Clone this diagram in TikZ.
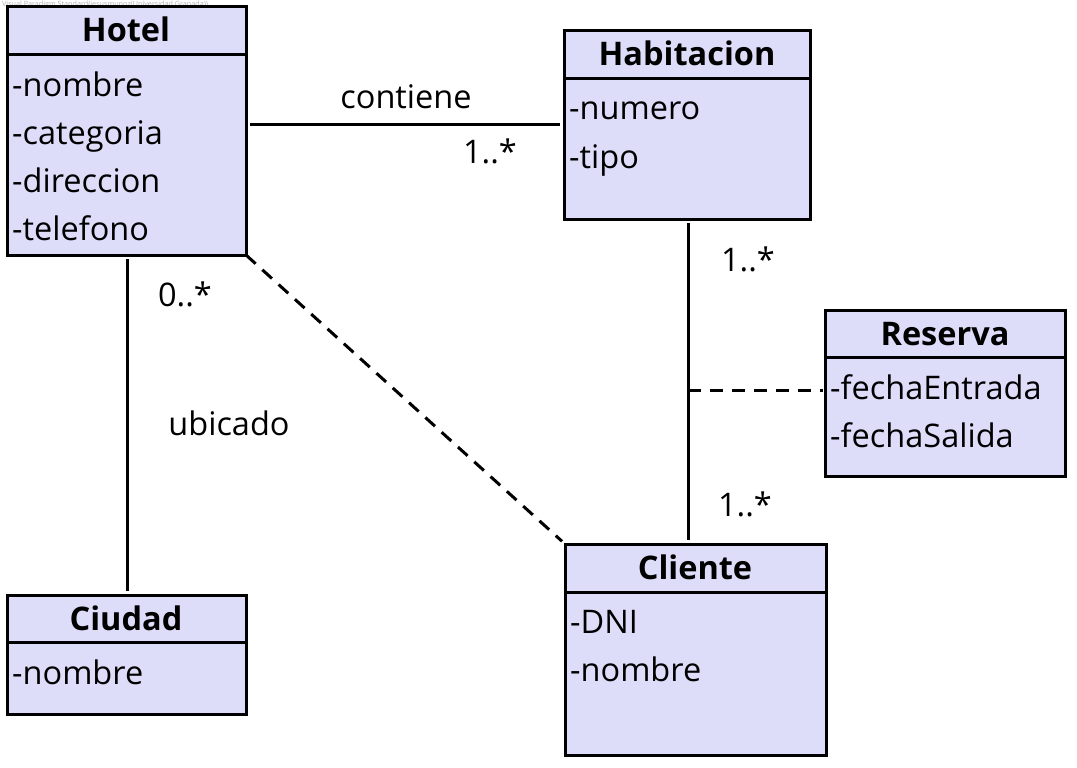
\documentclass[tikz,border=0pt]{standalone}
\usepackage{fontspec}
\setmainfont{Open Sans}
\begin{document}
\begin{tikzpicture}[x=1pt,y=-1pt,
  classbox/.style={draw=black,line width=3pt,fill=boxfill,anchor=north west,inner sep=0pt,outer sep=0pt},
  ctitle/.style={font=\fontsize{32.5}{38}\selectfont\bfseries,anchor=base,inner sep=0pt},
  attr/.style={font=\fontsize{32.5}{38}\selectfont,anchor=base west,inner sep=0pt},
  lbl/.style={font=\fontsize{32.5}{38}\selectfont,anchor=base,inner sep=0pt},
  conn/.style={line width=3pt,shorten <=4pt,shorten >=4pt},
  dconn/.style={line width=3pt,dash pattern=on 13pt off 9pt},
  hline/.style={line width=3pt}
]
\definecolor{boxfill}{RGB}{221,221,250}
\useasboundingbox (0,0) rectangle (1077,768);
\fill[white] (0,0) rectangle (1077,768);
\node[font=\fontsize{7.2}{8}\selectfont,text=gray!60,anchor=north west,inner sep=0pt] (wm) at (2,0.5) {Visual Paradigm Standard(jesusmunoz(Universidad Granada))};

% Hotel
\node[classbox,minimum width=239pt,minimum height=248pt] (hotel) at (7,7) {};
\draw[hline] (7,55) -- (246,55);
\node[ctitle] (hotelt) at (126,42) {Hotel};
\node[attr] (h1) at (12,96) {-nombre};
\node[attr] (h2) at (12,144) {-categoria};
\node[attr] (h3) at (12,192) {-direccion};
\node[attr] (h4) at (12,240) {-telefono};

% Habitacion
\node[classbox,minimum width=246pt,minimum height=188pt] (hab) at (564,31) {};
\draw[hline] (564,79) -- (810,79);
\node[ctitle] (habt) at (687,66) {Habitacion};
\node[attr] (hb1) at (569,120) {-numero};
\node[attr] (hb2) at (569,168) {-tipo};

% Reserva
\node[classbox,minimum width=240pt,minimum height=166pt] (res) at (825,310) {};
\draw[hline] (825,357) -- (1065,357);
\node[ctitle] (rest) at (945,345) {Reserva};
\node[attr] (r1) at (830,399) {-fechaEntrada};
\node[attr] (r2) at (830,447) {-fechaSalida};

% Cliente
\node[classbox,minimum width=261pt,minimum height=211pt] (cli) at (565,544) {};
\draw[hline] (565,592) -- (826,592);
\node[ctitle] (clit) at (695,579) {Cliente};
\node[attr] (c1) at (570,633) {-DNI};
\node[attr] (c2) at (570,681) {-nombre};

% Ciudad
\node[classbox,minimum width=239pt,minimum height=119pt] (ciu) at (7,595) {};
\draw[hline] (7,642) -- (246,642);
\node[ctitle] (ciut) at (126,630) {Ciudad};
\node[attr] (ci1) at (12,684) {-nombre};

% connectors
\draw[conn] (hotel.east |- 0,124) -- (hab.west |- 0,124);
\draw[conn] (hotel.south -| 127,0) -- (ciu.north -| 127,0);
\draw[dconn,shorten >=4pt] (hotel.south east) -- (cli.north west);
\draw[conn] (hab.south -| 688,0) -- (cli.north -| 688,0);
\coordinate (mid) at (688,390);
\draw[dconn,shorten >=2pt] (mid) -- (res.west |- mid);

% labels
\node[lbl] (l1) at (406,108) {contiene};
\node[lbl] (l2) at (490,163) {1..*};
\node[lbl] (l3) at (185,306) {0..*};
\node[lbl] (l4) at (229,435) {ubicado};
\node[lbl] (l5) at (748,271) {1..*};
\node[lbl] (l6) at (745,516) {1..*};
\end{tikzpicture}
\end{document}
